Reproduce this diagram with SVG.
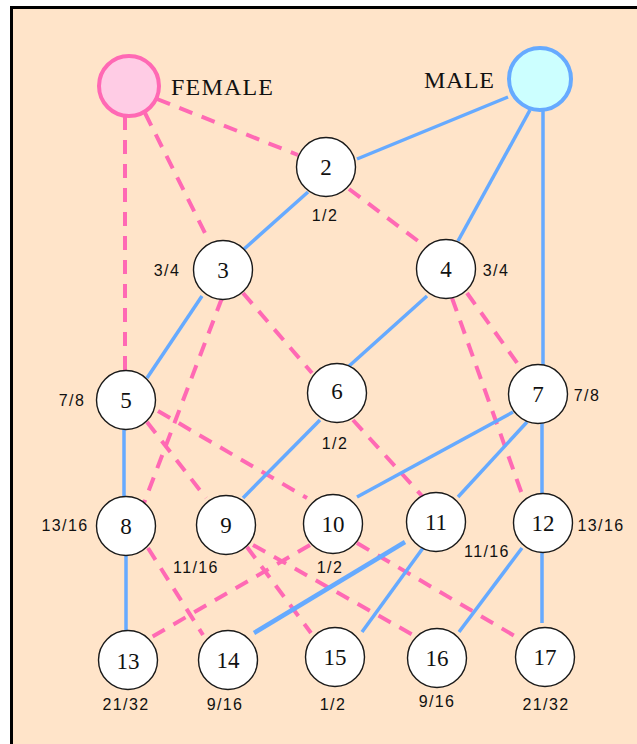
<svg xmlns="http://www.w3.org/2000/svg" width="637" height="744" viewBox="0 0 637 744">
<style>
.m{stroke:#66AAFF;stroke-width:3.5;fill:none;stroke-linecap:butt}
.f{stroke:#FF69B4;stroke-width:4;fill:none;stroke-dasharray:14 10}
.n{fill:#FFFFFF;stroke:#1a1a1a;stroke-width:1.4}
.num{font-family:"Liberation Serif",serif;font-size:23px;fill:#111;text-anchor:middle}
.fr{font-family:"Liberation Sans",sans-serif;font-size:16px;fill:#111;text-anchor:middle;letter-spacing:1.4px}
.big{font-family:"Liberation Serif",serif;font-size:24px;fill:#111}
</style>
<rect x="0" y="0" width="637" height="744" fill="#FFFFFF"/>
<rect x="10" y="6" width="640" height="760" fill="#000000"/>
<rect x="13" y="9" width="640" height="760" fill="#FFE4C9"/>
<g id="connectors">
<line class="f" x1="157" y1="99" x2="298" y2="155"/>
<line class="f" x1="145" y1="113" x2="209" y2="241"/>
<line class="f" x1="125" y1="116" x2="125" y2="372"/>
<line class="m" x1="508" y1="97" x2="357" y2="159"/>
<line class="m" x1="530" y1="110" x2="458" y2="241"/>
<line class="m" x1="543" y1="110" x2="543" y2="365"/>
<line class="m" x1="308" y1="192" x2="243" y2="250"/>
<line class="f" x1="349" y1="189" x2="426" y2="247"/>
<line class="m" x1="202" y1="296" x2="147" y2="378"/>
<line class="f" x1="222" y1="298" x2="144" y2="503"/>
<line class="f" x1="243" y1="293" x2="312" y2="373"/>
<line class="m" x1="427" y1="296" x2="348" y2="367"/>
<line class="f" x1="452" y1="298" x2="523" y2="497"/>
<line class="f" x1="467" y1="293" x2="520" y2="367"/>
<line class="m" x1="124" y1="429" x2="124" y2="497"/>
<line class="f" x1="147" y1="422" x2="206" y2="498"/>
<line class="f" x1="158" y1="411" x2="307" y2="498"/>
<line class="m" x1="320" y1="420" x2="243" y2="498"/>
<line class="f" x1="353" y1="420" x2="423" y2="497"/>
<line class="m" x1="513" y1="412" x2="357" y2="497"/>
<line class="m" x1="527" y1="422" x2="458" y2="497"/>
<line class="m" x1="542" y1="423" x2="542" y2="494"/>
<line class="m" x1="126" y1="556" x2="126" y2="631"/>
<line class="f" x1="148" y1="548" x2="203" y2="635"/>
<line class="f" x1="310" y1="545" x2="150" y2="638"/>
<line class="f" x1="247" y1="547" x2="311" y2="633"/>
<line class="f" x1="253" y1="545" x2="413" y2="635"/>
<line class="f" x1="357" y1="543" x2="518" y2="638"/>
<line class="m" x1="405" y1="542" x2="254" y2="633" style="stroke-width:4.5"/>
<line class="m" x1="423" y1="548" x2="362" y2="632"/>
<line class="m" x1="522" y1="548" x2="459" y2="632"/>
<line class="m" x1="542" y1="553" x2="542" y2="623"/>
</g>
<g id="female"><circle cx="129" cy="86" r="30" fill="#FFCCE5" stroke="#FF69B4" stroke-width="4"/><text class="big" x="171" y="95" textLength="102">FEMALE</text></g>
<g id="male"><circle cx="540" cy="79" r="31" fill="#CCFFFF" stroke="#66AAFF" stroke-width="4"/><text class="big" x="424" y="88" textLength="70">MALE</text></g>
<g id="n2"><circle class="n" cx="326" cy="167" r="29.5"/><text class="num" x="326" y="175">2</text><text class="fr" x="325" y="221">1/2</text></g>
<g id="n3"><circle class="n" cx="223" cy="270" r="29.5"/><text class="num" x="223" y="278">3</text><text class="fr" x="167" y="276">3/4</text></g>
<g id="n4"><circle class="n" cx="446" cy="269" r="29.5"/><text class="num" x="446" y="277">4</text><text class="fr" x="496" y="276">3/4</text></g>
<g id="n5"><circle class="n" cx="126" cy="400" r="29.5"/><text class="num" x="126" y="408">5</text><text class="fr" x="72" y="406">7/8</text></g>
<g id="n6"><circle class="n" cx="337" cy="393" r="29.5"/><text class="num" x="337" y="399">6</text><text class="fr" x="335" y="449">1/2</text></g>
<g id="n7"><circle class="n" cx="538" cy="394" r="29.5"/><text class="num" x="538" y="402">7</text><text class="fr" x="587" y="401">7/8</text></g>
<g id="n8"><circle class="n" cx="126" cy="526" r="29.5"/><text class="num" x="126" y="534">8</text><text class="fr" x="65" y="531">13/16</text></g>
<g id="n9"><circle class="n" cx="226" cy="525" r="29.5"/><text class="num" x="226" y="533">9</text><text class="fr" x="196" y="573">11/16</text></g>
<g id="n10"><circle class="n" cx="333" cy="524" r="29.5"/><text class="num" x="333" y="532">10</text><text class="fr" x="330" y="573">1/2</text></g>
<g id="n11"><circle class="n" cx="436" cy="522" r="29.5"/><text class="num" x="436" y="530">11</text><text class="fr" x="487" y="557">11/16</text></g>
<g id="n12"><circle class="n" cx="543" cy="523" r="29.5"/><text class="num" x="543" y="531">12</text><text class="fr" x="601" y="531">13/16</text></g>
<g id="n13"><circle class="n" cx="128" cy="660" r="29.5"/><text class="num" x="128" y="669">13</text><text class="fr" x="126" y="710">21/32</text></g>
<g id="n14"><circle class="n" cx="228" cy="660" r="29.5"/><text class="num" x="228" y="668">14</text><text class="fr" x="225" y="710">9/16</text></g>
<g id="n15"><circle class="n" cx="335" cy="657" r="29.5"/><text class="num" x="335" y="665">15</text><text class="fr" x="333" y="710">1/2</text></g>
<g id="n16"><circle class="n" cx="437" cy="658" r="29.5"/><text class="num" x="437" y="666">16</text><text class="fr" x="437" y="707">9/16</text></g>
<g id="n17"><circle class="n" cx="545" cy="657" r="29.5"/><text class="num" x="545" y="665">17</text><text class="fr" x="546" y="710">21/32</text></g>
</svg>
